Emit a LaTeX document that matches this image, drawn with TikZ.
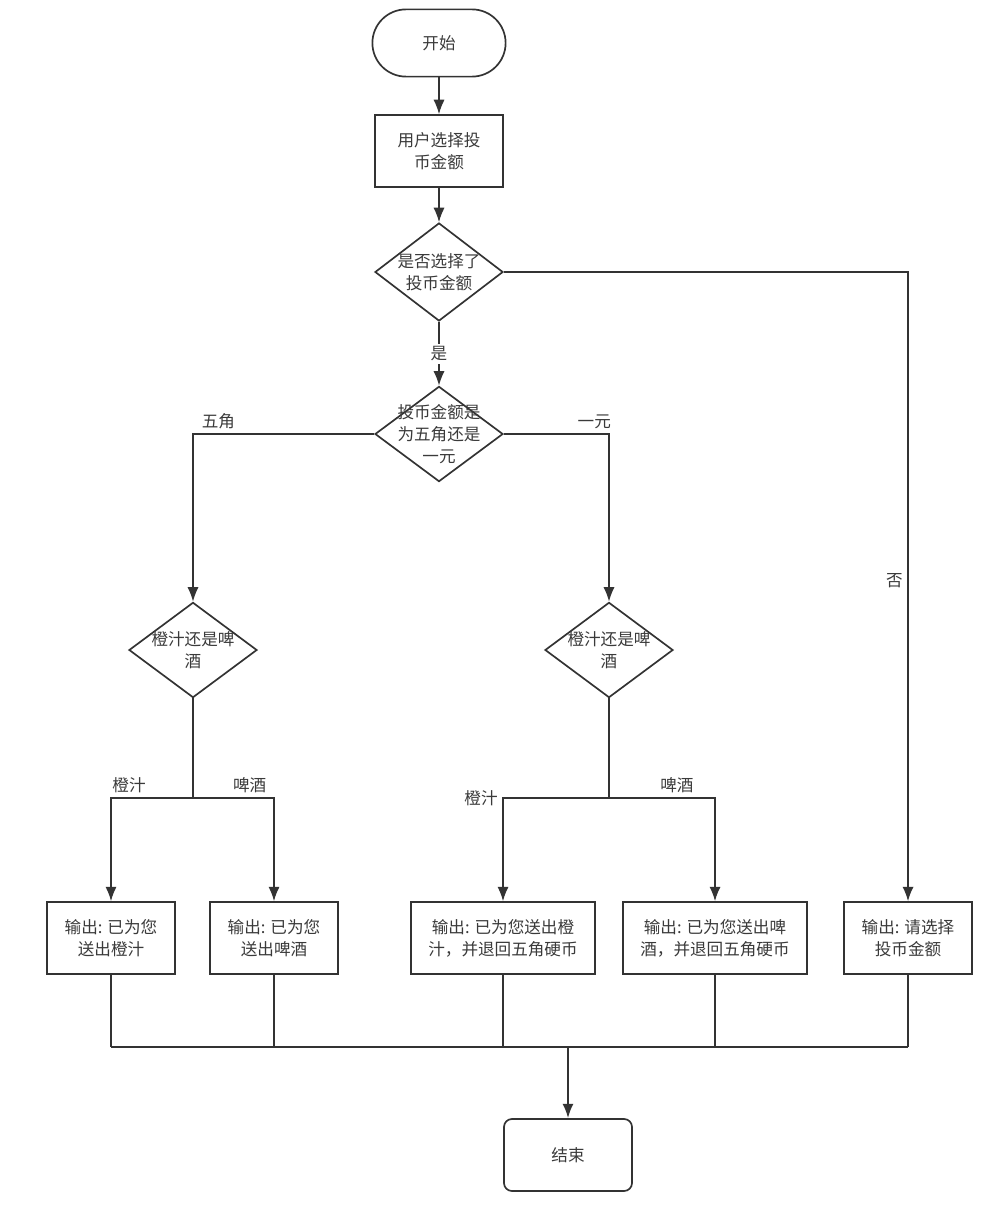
\documentclass[tikz,border=0pt]{standalone}
\usepackage{fontspec}
\setmainfont{Noto Sans CJK SC}
\usepackage{tikz}
\usetikzlibrary{shapes.geometric,arrows.meta}
\definecolor{ln}{HTML}{333333}
\definecolor{tx}{HTML}{3A3A3A}

\begin{document}
\begin{tikzpicture}
      [x = .025cm, y = -.025cm, line width = 1pt, draw = ln,
       every node/.style = {text = tx, font = \fontsize{11.8}{15.5}\selectfont, align = center},
       proc/.style = {draw, line width = 1.2pt, minimum width = 3.2cm, minimum height = 1.8cm, inner sep = 0pt},
       wide/.style = {proc, minimum width = 4.6cm},
       dia/.style = {draw, diamond, line width = 1.2pt, minimum width = 3.2cm, minimum height = 2.38cm, inner sep = 0pt},
       arr/.style = {-{Latex[length = 3.6mm, width = 2.8mm]}}]
      \useasboundingbox (0,0) rectangle (1004,1228);
      % shapes
      \node[draw, line width = 1.2pt, rounded corners = .84cm, minimum width = 3.33cm,
            minimum height = 1.68cm] (start) at (439,43) {开始};
      \node[proc] (sel) at (439,151) {用户选择投\\币金额};
      \node[dia, minimum height = 2.45cm] (d1) at (439,272) {};
      \node (t1) at (d1) {是否选择了\\投币金额};
      \node[dia] (d2) at (439,434) {};
      \node (t2) at (d2) {投币金额是\\为五角还是\\一元};
      \node[dia] (d3) at (193,650) {};
      \node (t3) at (d3) {橙汁还是啤\\酒};
      \node[dia] (d4) at (609,650) {};
      \node (t4) at (d4) {橙汁还是啤\\酒};
      \node[proc] (b1) at (111,938) {输出: 已为您\\送出橙汁};
      \node[proc] (b2) at (274,938) {输出: 已为您\\送出啤酒};
      \node[wide] (b3) at (503,938) {输出: 已为您送出橙\\汁，并退回五角硬币};
      \node[wide] (b4) at (715,938) {输出: 已为您送出啤\\酒，并退回五角硬币};
      \node[proc] (b5) at (908,938) {输出: 请选择\\投币金额};
      \node[proc, rounded corners = .2cm] (stop) at (568,1155) {结束};
      \coordinate (k1) at (193,798);
      \coordinate (k2) at (609,798);
      \coordinate (m) at (568,1047);
      % connectors
      \draw[arr] (start) -- (sel);
      \draw[arr] (sel) -- (d1);
      \draw[arr] (d1) -- node[fill = white, inner sep = 2pt] (yes) {是} (d2);
      \draw[arr] (d1.east) -| node[pos = .745, left] (no) {否} (b5.north);
      \draw[arr] (d2.west) -| node[pos = .43, above] (wj) {五角} (d3.north);
      \draw[arr] (d2.east) -| node[pos = .43, above] (yy) {一元} (d4.north);
      \draw (d3.south) -- (k1);
      \draw (d4.south) -- (k2);
      \draw[arr] (k1) -| node[pos = .39, above] (c1) {橙汁} (b1.north);
      \draw[arr] (k1) -| node[pos = .35, above] (p1) {啤酒} (b2.north);
      \draw[arr] (k2) -| node[pos = .5, left] (c2) {橙汁} (b3.north);
      \draw[arr] (k2) -| node[pos = .32, above] (p2) {啤酒} (b4.north);
      \foreach \b in {b1,b2,b3,b4,b5}
        \draw (\b.south) -- (\b.south |- m);
      \draw (b1.south |- m) -- (b5.south |- m);
      \draw[arr, line width = 1.4pt] (m) -- (stop);
      \end{tikzpicture}
\end{document}
